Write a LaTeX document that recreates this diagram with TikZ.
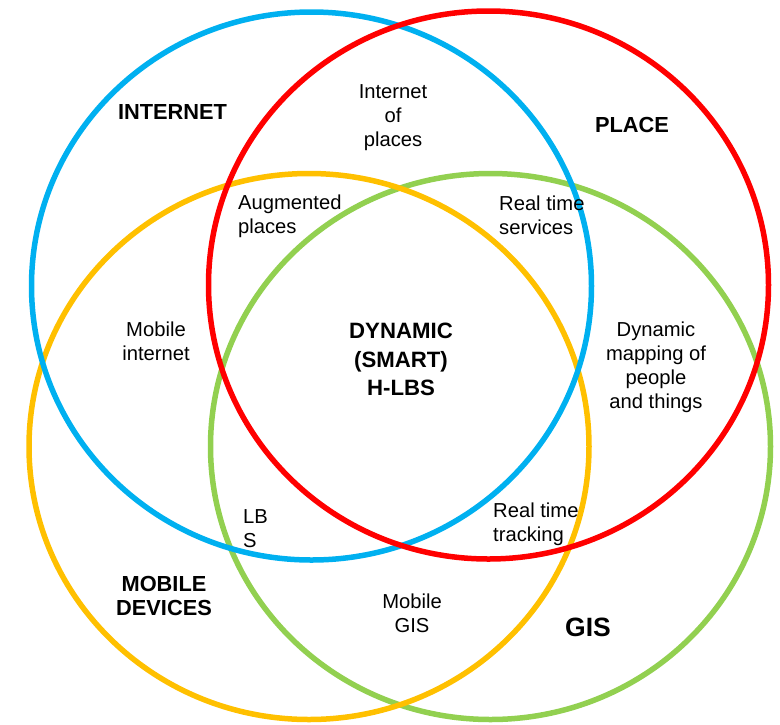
\documentclass[tikz,border=0pt]{standalone}
\usepackage{fontspec}
\setmainfont{Liberation Sans}
\usepackage{xcolor}

\definecolor{netblue}{HTML}{00B0F0}
\definecolor{placered}{HTML}{FF0000}
\definecolor{mobileorange}{HTML}{FFC000}
\definecolor{gisgreen}{HTML}{92D050}

\begin{document}
\begin{tikzpicture}[x=1pt,y=-1pt,line cap=round,
  ring/.style={line width=5.5pt},
  lbl/.style={align=center,inner sep=0pt,font=\fontsize{20.2}{24}\selectfont},
  lbll/.style={lbl,align=left},
  hdr/.style={align=center,inner sep=0pt,font=\fontsize{21.8}{24}\bfseries\selectfont}]
\useasboundingbox (0,0) rectangle (780,724);
% the four sets, bottom one first
\draw[ring,gisgreen] (490.5,446.5) ellipse [x radius=280,y radius=273];
\draw[ring,mobileorange] (309,446.5) ellipse [x radius=280,y radius=273];
\draw[ring,netblue] (311.5,286) ellipse [x radius=280,y radius=274];
\draw[ring,placered] (488.5,285) ellipse [x radius=280,y radius=274];
% set names
\node[hdr] (internet) at (172.5,112) {INTERNET};
\node[hdr] (place) at (632,125) {PLACE};
\node[hdr] (mobile) at (164,596) {MOBILE\\DEVICES};
\node[hdr,font=\fontsize{26.5}{30}\bfseries\selectfont] (gis) at (588,627) {GIS};
\node[hdr,font=\fontsize{22.2}{28.5}\bfseries\selectfont] (hlbs) at (401,359.5) {DYNAMIC\\(SMART)\\H-LBS};
% overlaps
\node[lbl] (iop) at (393,117.5) {Internet\\of\\places};
\node[lbll,anchor=west] (aug) at (238,216.5) {Augmented\\places};
\node[lbll,anchor=west] (rts) at (499,215.5) {Real time\\services};
\node[lbl] (mobnet) at (156,341) {Mobile\\internet};
\node[lbl] (dynmap) at (656,367.5) {Dynamic\\mapping of\\people\\and things};
\node[lbll,anchor=west] (lbs) at (243,529) {LB\\S};
\node[lbll,anchor=west] (rtt) at (493,524.5) {Real time\\tracking};
\node[lbl] (mobgis) at (412,613) {Mobile\\GIS};
\end{tikzpicture}
\end{document}
